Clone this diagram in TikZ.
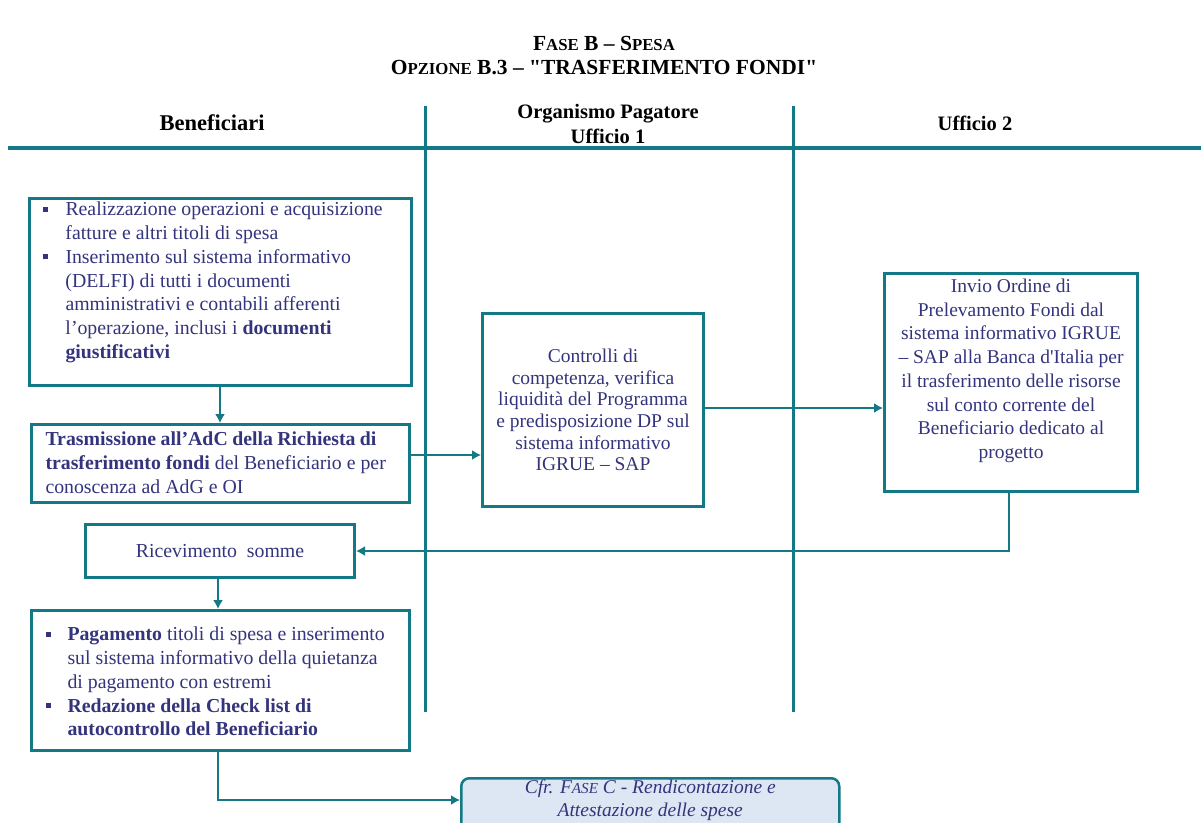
\documentclass[tikz,border=0pt]{standalone}
\usepackage{fontspec}
\setmainfont{Liberation Serif}[Ligatures=TeXOff]
\usetikzlibrary{arrows.meta}

\definecolor{lane}{RGB}{20,121,135}
\definecolor{ink}{RGB}{52,52,125}
\definecolor{notefill}{RGB}{221,231,243}

% small square bullet
\newcommand{\sqb}{\raisebox{4pt}{\rule{5pt}{5pt}}}
% fake small capitals
\newcommand{\fsc}[2]{#1{\fontsize{0.78\dimexpr\fontdimen6\font\relax}{0}\selectfont #2}}
% fixed-size panel with top-aligned content
\newcommand{\panel}[4]{\parbox[c][#2][t]{#1}{\vspace*{#3}#4}}

\tikzset{
  box/.style={draw=lane, line width=3pt, fill=white, inner sep=0pt, anchor=north west,
              text=ink, font=\fontsize{19.8}{23.8}\selectfont},
  lanerule/.style={draw=lane, line width=3pt},
  flow/.style={draw=lane, line width=1.6pt, -{Latex[length=9pt,width=10pt]}},
  head/.style={font=\bfseries\fontsize{20.5}{25}\selectfont, align=center, text=black},
}

\begin{document}
\begin{tikzpicture}[x=1pt,y=-1pt]
\useasboundingbox (0,0) rectangle (1201,822);

% title (anchored at the baseline of its second line)
\node[font=\bfseries\fontsize{21.5}{24}\selectfont, align=center, anchor=base] (title) at (604,74)
  {\fsc{F}{ASE} B – \fsc{S}{PESA}\\ \fsc{O}{PZIONE} B.3 – "TRASFERIMENTO FONDI"};

% swimlane headers
\node[head, anchor=base, font=\bfseries\fontsize{22.5}{25}\selectfont] (h1) at (212,130) {Beneficiari};
\node[head, anchor=base] (h2) at (608,143) {Organismo Pagatore\\Ufficio 1};
\node[head, anchor=base] (h3) at (975,130) {Ufficio 2};

% lane rules
\coordinate (rl) at (8,148);
\coordinate (rr) at (1201,148);
\draw[draw=lane, line width=4.5pt] (rl) -- (rr);
\coordinate (v1t) at (425,106);
\coordinate (v1b) at (425,712);
\coordinate (v2t) at (793,106);
\coordinate (v2b) at (793,712);
\draw[lanerule] (v1t) -- (v1b);
\draw[lanerule] (v2t) -- (v2b);

% Beneficiari: acquisition and upload
\node[box] (b1) at (28,197) {\panel{382pt}{187pt}{3.5pt}{%
  \hspace*{14pt}\makebox[22pt][l]{\sqb}Realizzazione operazioni e acquisizione\\
  \hspace*{36pt}fatture e altri titoli di spesa\\
  \hspace*{14pt}\makebox[22pt][l]{\sqb}Inserimento sul sistema informativo\\
  \hspace*{36pt}(DELFI) di tutti i documenti\\
  \hspace*{36pt}amministrativi e contabili afferenti\\
  \hspace*{36pt}l’operazione, inclusi i \textbf{documenti}\\
  \hspace*{36pt}\textbf{giustificativi}}};

% transfer request
\node[box] (b2) at (30,423) {\panel{378pt}{78pt}{7.5pt}{%
  \hspace*{14pt}\makebox[331pt][s]{\textbf{Trasmissione all’AdC della Richiesta di}}\\
  \hspace*{14pt}\textbf{trasferimento fondi} del Beneficiario e per\\
  \hspace*{14pt}conoscenza ad AdG e OI}};

% receipt of funds
\node[box, minimum width=269pt, minimum height=53pt] (b3) at (84,523) {Ricevimento\hspace{0.5em}somme};

% payment and checklist
\node[box] (b4) at (30,609) {\panel{378pt}{140pt}{16.5pt}{%
  \hspace*{14pt}\makebox[22pt][l]{\sqb}\textbf{Pagamento} titoli di spesa e inserimento\\
  \hspace*{36pt}sul sistema informativo della quietanza\\
  \hspace*{36pt}di pagamento con estremi\\
  \hspace*{14pt}\makebox[22pt][l]{\sqb}\textbf{Redazione della Check list di}\\
  \hspace*{36pt}\textbf{autocontrollo del Beneficiario}}};

% Ufficio 1
\node[box, minimum width=221pt, minimum height=193pt, align=center,
      font=\fontsize{19.5}{21.7}\selectfont] (c1) at (481,312)
  {Controlli di\\ competenza, verifica\\ liquidità del Programma\\
   e predisposizione DP sul\\ sistema informativo\\ IGRUE – SAP};

% Ufficio 2
\node[box, font=\fontsize{19.5}{23.7}\selectfont] (c2) at (883,272) {\panel{253pt}{218pt}{5.5pt}{\centering
  Invio Ordine di\\ Prelevamento Fondi dal\\ sistema informativo IGRUE\\
  – SAP alla Banca d'Italia per\\ il trasferimento delle risorse\\
  sul conto corrente del\\ Beneficiario dedicato al\\ progetto\par}};

% reference to phase C
\node[draw=lane, line width=2.5pt, fill=notefill, rounded corners=8pt, anchor=north west,
      inner sep=0pt, text=ink, font=\itshape\fontsize{19.5}{22.5}\selectfont] (fc) at (460,777)
  {\panel{378pt}{62pt}{2pt}{\centering Cfr. \fsc{F}{ASE} C - Rendicontazione e\\ Attestazione delle spese\par}};

% connectors
\draw[flow] (b1.south -| 220,0) -- (b2.north -| 220,0);
\draw[flow] (b2.east |- 0,455) -- (c1.west |- 0,455);
\draw[flow] (c1.east |- 0,408) -- (c2.west |- 0,408);
\coordinate (turn1) at (1009,551);
\draw[flow] (c2.south -| turn1) -- (turn1) -- (b3.east |- turn1);
\draw[flow] (b3.south -| 218,0) -- (b4.north -| 218,0);
\coordinate (turn2) at (218,800);
\draw[flow] (b4.south -| turn2) -- (turn2) -- (fc.west |- turn2);

\end{tikzpicture}
\end{document}
